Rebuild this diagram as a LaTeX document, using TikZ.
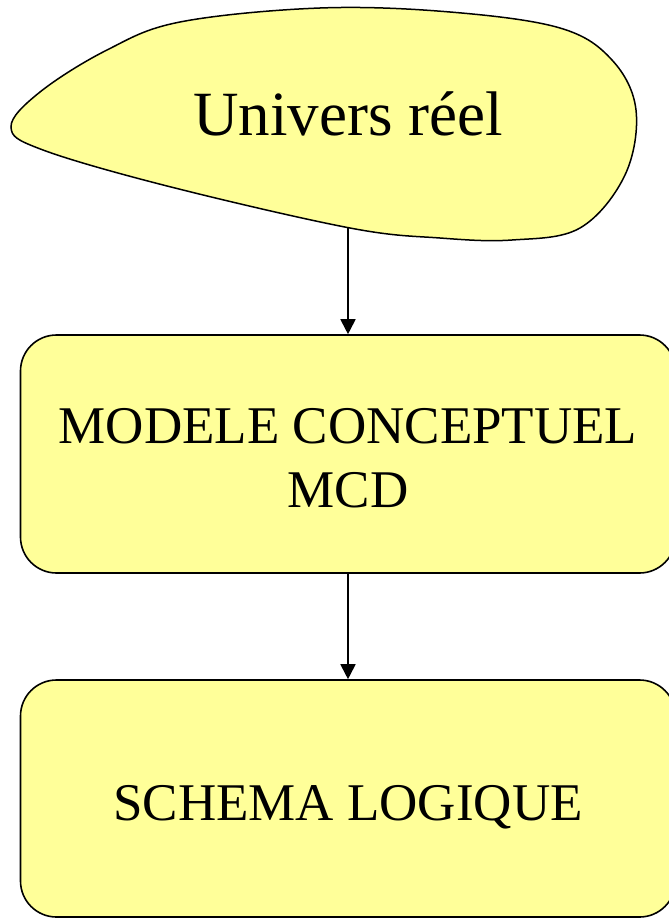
\documentclass[tikz,border=0pt]{standalone}
\usepackage{fontspec}
\setmainfont{Liberation Serif}
\usetikzlibrary{arrows.meta}
\definecolor{boxyellow}{HTML}{FFFF99}
\begin{document}
\begin{tikzpicture}[x=1pt,y=-1pt,
  boxstyle/.style={draw=black, line width=1.6pt, fill=boxyellow, rounded corners=36pt,
    minimum width=655pt, inner sep=0pt, align=center, font=\fontsize{53}{64}\selectfont},
  arrowstyle/.style={line width=1.8pt, -{Triangle[length=15pt,width=15pt]}}]
\useasboundingbox (0,0) rectangle (669,918);
\draw[fill=boxyellow, line width=1.5pt] plot[smooth cycle, tension=0.6] coordinates {
  (11,127) (40,92) (107,50) (180,22) (320,8) (450,12) (560,28) (612,60) (636,110)
  (625,175) (580,228) (512,240) (440,238) (350,228) (171,187) (43,150)};
\node[font=\fontsize{63}{75}\selectfont, anchor=base] (univ) at (348,135) {Univers réel};
\coordinate (ub) at (348,227);
\node[boxstyle, minimum height=238pt, text height=106pt, text depth=0pt] (mcd) at (348,454)
  {MODELE CONCEPTUEL\\MCD};
\node[boxstyle, minimum height=237pt, text height=43pt, text depth=0pt] (sch) at (348,798.5)
  {SCHEMA LOGIQUE};
\draw[arrowstyle] (ub) -- (mcd.north);
\draw[arrowstyle] (mcd.south) -- (sch.north);
\end{tikzpicture}
\end{document}
